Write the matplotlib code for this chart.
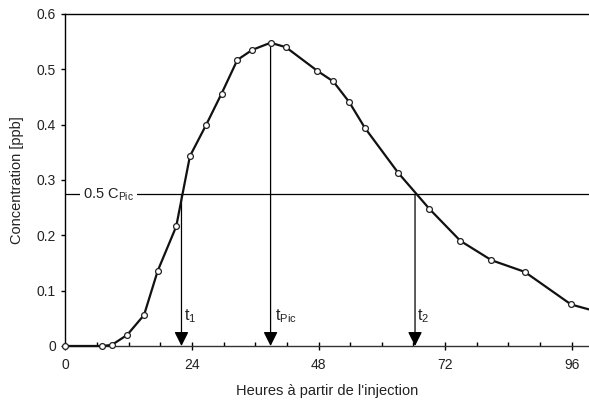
import matplotlib
matplotlib.use('Agg')
import matplotlib.pyplot as plt
from matplotlib.ticker import MultipleLocator, FuncFormatter

plt.rcParams['font.family'] = ['Liberation Sans', 'DejaVu Sans']
plt.rcParams['mathtext.fontset'] = 'custom'
plt.rcParams['mathtext.rm'] = 'Liberation Sans'
plt.rcParams['mathtext.it'] = 'Liberation Sans'

# donnees
heures = [0, 7.0, 8.8, 11.7, 14.9, 17.5, 21.0, 23.6, 26.7, 29.6, 32.6, 35.4,
          38.9, 41.8, 47.8, 50.8, 53.8, 56.8, 63.1, 69.0, 74.9, 80.8, 87.1,
          95.9, 102.0]
conc = [0, 0, 0.002, 0.02, 0.056, 0.136, 0.216, 0.343, 0.40, 0.456, 0.517,
        0.535, 0.548, 0.540, 0.497, 0.478, 0.441, 0.394, 0.313, 0.248, 0.190,
        0.155, 0.134, 0.075, 0.059]

c_pic = 0.548
t_pic = 38.9
t1 = 22.0
t2 = 66.3
demi = 0.5 * c_pic

fig = plt.figure(figsize=(5.89, 4.05), dpi=100)
ax = fig.add_axes([0.1112, 0.1457, 0.8888, 0.8198])

ax.plot(heures, conc, '-', color='#111111', lw=1.6, marker='o', ms=4.2,
        mfc='white', mec='#222222', mew=0.9, zorder=3, clip_on=False)

# ligne 0.5 Cpic
ax.axhline(demi, color='black', lw=0.9, zorder=1)
ax.text(3.3, demi, r'0.5 C$_{\mathregular{Pic}}$', fontsize=10.5, va='center',
        ha='left', color='#222222',
        bbox=dict(facecolor='white', edgecolor='none', pad=2), zorder=2)

# fleches
fl = dict(arrowstyle='-|>,head_width=0.43,head_length=0.86', color='black',
          lw=0.9, shrinkA=0, shrinkB=0, mutation_scale=10)
for xx, y0 in [(t1, demi), (t_pic, c_pic), (t2, demi)]:
    ax.annotate('', xy=(xx, 0), xytext=(xx, y0), arrowprops=fl, zorder=2)

ax.text(t1 + 0.45, 0.047, r't$_{\mathregular{1}}$', fontsize=11.5, color='#222222')
ax.text(t_pic + 0.9, 0.047, r't$_{\mathregular{Pic}}$', fontsize=11.5, color='#222222')
ax.text(t2 + 0.45, 0.047, r't$_{\mathregular{2}}$', fontsize=11.5, color='#222222')

ax.set_xlim(0, 99.3)
ax.set_ylim(0, 0.6)
ax.xaxis.set_major_locator(MultipleLocator(24))
ax.xaxis.set_minor_locator(MultipleLocator(6))
ax.yaxis.set_major_locator(MultipleLocator(0.1))
ax.yaxis.set_major_formatter(FuncFormatter(lambda v, p: '%g' % round(v, 2)))

ax.spines['right'].set_visible(False)
for s in ['left', 'top', 'bottom']:
    ax.spines[s].set_linewidth(1.0)
    ax.spines[s].set_color('black')
ax.spines['bottom'].set_color('#333333')

ax.tick_params(axis='x', which='major', direction='inout', length=6, width=1,
               labelsize=10, pad=6, labelcolor='#222222')
ax.tick_params(axis='x', which='minor', direction='in', length=3, width=1)
ax.tick_params(axis='y', which='major', direction='out', length=3, width=1,
               labelsize=10, pad=4, labelcolor='#222222')

ax.set_xlabel("Heures à partir de l'injection", fontsize=10.5, color='#222222', labelpad=8)
ax.set_ylabel('Concentration [ppb]', fontsize=10.5, color='#222222', labelpad=9)

fig.savefig('out.png', dpi=100)
